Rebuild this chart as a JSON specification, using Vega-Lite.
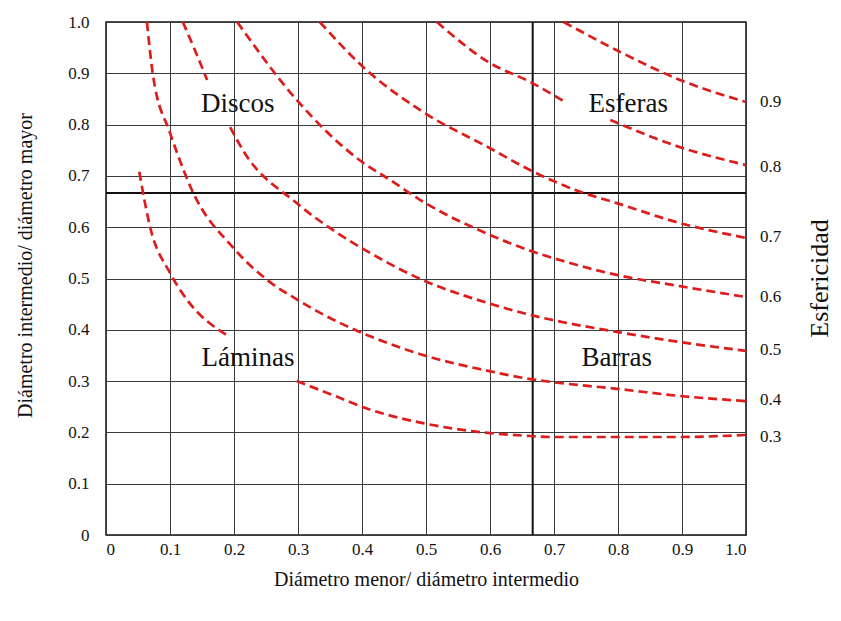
{
  "$schema": "https://vega.github.io/schema/vega-lite/v6.json",
  "width": 640,
  "height": 513,
  "autosize": {"type": "none"},
  "padding": {"left": 106, "top": 22, "right": 95, "bottom": 86},
  "background": "white",
  "config": {
    "font": "Liberation Serif",
    "view": {"stroke": "#111", "strokeWidth": 1.5},
    "axis": {
      "labelFont": "Liberation Serif",
      "titleFont": "Liberation Serif",
      "labelFontSize": 17,
      "titleFontSize": 20,
      "titleFontWeight": "normal",
      "labelColor": "#111",
      "titleColor": "#111",
      "gridColor": "#3a3a3a",
      "gridOpacity": 1,
      "gridWidth": 1,
      "domain": false,
      "ticks": false
    }
  },
  "title": {
    "text": "Esfericidad",
    "orient": "right",
    "angle": 270,
    "font": "Liberation Serif",
    "fontSize": 26,
    "fontWeight": "normal",
    "color": "#111",
    "offset": 0,
    "anchor": "middle"
  },
  "datasets": {
    "curves": [
      {"k": "0.9", "x": 0.715, "y": 1.0},
      {"k": "0.9", "x": 0.798, "y": 0.945},
      {"k": "0.9", "x": 0.897, "y": 0.887},
      {"k": "0.9", "x": 1.0, "y": 0.844},
      {"k": "0.8a", "x": 0.517, "y": 1.0},
      {"k": "0.8a", "x": 0.6, "y": 0.92},
      {"k": "0.8a", "x": 0.663, "y": 0.883},
      {"k": "0.8a", "x": 0.72, "y": 0.842},
      {"k": "0.8b", "x": 0.788, "y": 0.809},
      {"k": "0.8b", "x": 0.897, "y": 0.756},
      {"k": "0.8b", "x": 1.0, "y": 0.721},
      {"k": "0.7", "x": 0.334, "y": 1.0},
      {"k": "0.7", "x": 0.402, "y": 0.912},
      {"k": "0.7", "x": 0.491, "y": 0.828},
      {"k": "0.7", "x": 0.6, "y": 0.754},
      {"k": "0.7", "x": 0.663, "y": 0.711},
      {"k": "0.7", "x": 0.741, "y": 0.669},
      {"k": "0.7", "x": 0.798, "y": 0.647},
      {"k": "0.7", "x": 0.897, "y": 0.608},
      {"k": "0.7", "x": 1.0, "y": 0.579},
      {"k": "0.6", "x": 0.205, "y": 1.0},
      {"k": "0.6", "x": 0.298, "y": 0.848},
      {"k": "0.6", "x": 0.397, "y": 0.73},
      {"k": "0.6", "x": 0.444, "y": 0.692},
      {"k": "0.6", "x": 0.495, "y": 0.65},
      {"k": "0.6", "x": 0.6, "y": 0.585},
      {"k": "0.6", "x": 0.663, "y": 0.554},
      {"k": "0.6", "x": 0.709, "y": 0.536},
      {"k": "0.6", "x": 0.798, "y": 0.507},
      {"k": "0.6", "x": 0.897, "y": 0.485},
      {"k": "0.6", "x": 1.0, "y": 0.464},
      {"k": "0.5a", "x": 0.12, "y": 1.0},
      {"k": "0.5a", "x": 0.139, "y": 0.945},
      {"k": "0.5a", "x": 0.158, "y": 0.887},
      {"k": "0.5b", "x": 0.194, "y": 0.795},
      {"k": "0.5b", "x": 0.214, "y": 0.75},
      {"k": "0.5b", "x": 0.298, "y": 0.647},
      {"k": "0.5b", "x": 0.366, "y": 0.585},
      {"k": "0.5b", "x": 0.4, "y": 0.559},
      {"k": "0.5b", "x": 0.495, "y": 0.497},
      {"k": "0.5b", "x": 0.597, "y": 0.452},
      {"k": "0.5b", "x": 0.663, "y": 0.429},
      {"k": "0.5b", "x": 0.698, "y": 0.419},
      {"k": "0.5b", "x": 0.798, "y": 0.396},
      {"k": "0.5b", "x": 0.897, "y": 0.376},
      {"k": "0.5b", "x": 1.0, "y": 0.359},
      {"k": "0.4", "x": 0.064, "y": 1.0},
      {"k": "0.4", "x": 0.073, "y": 0.9},
      {"k": "0.4", "x": 0.1, "y": 0.784},
      {"k": "0.4", "x": 0.111, "y": 0.745},
      {"k": "0.4", "x": 0.134, "y": 0.673},
      {"k": "0.4", "x": 0.198, "y": 0.561},
      {"k": "0.4", "x": 0.252, "y": 0.497},
      {"k": "0.4", "x": 0.3, "y": 0.458},
      {"k": "0.4", "x": 0.366, "y": 0.413},
      {"k": "0.4", "x": 0.4, "y": 0.394},
      {"k": "0.4", "x": 0.495, "y": 0.351},
      {"k": "0.4", "x": 0.597, "y": 0.32},
      {"k": "0.4", "x": 0.663, "y": 0.304},
      {"k": "0.4", "x": 0.698, "y": 0.298},
      {"k": "0.4", "x": 0.798, "y": 0.285},
      {"k": "0.4", "x": 0.897, "y": 0.271},
      {"k": "0.4", "x": 1.0, "y": 0.261},
      {"k": "0.3a", "x": 0.052, "y": 0.708},
      {"k": "0.3a", "x": 0.069, "y": 0.6},
      {"k": "0.3a", "x": 0.1, "y": 0.511},
      {"k": "0.3a", "x": 0.127, "y": 0.458},
      {"k": "0.3a", "x": 0.188, "y": 0.39},
      {"k": "0.3b", "x": 0.298, "y": 0.3},
      {"k": "0.3b", "x": 0.366, "y": 0.267},
      {"k": "0.3b", "x": 0.4, "y": 0.25},
      {"k": "0.3b", "x": 0.495, "y": 0.218},
      {"k": "0.3b", "x": 0.597, "y": 0.199},
      {"k": "0.3b", "x": 0.663, "y": 0.193},
      {"k": "0.3b", "x": 0.698, "y": 0.191},
      {"k": "0.3b", "x": 0.798, "y": 0.191},
      {"k": "0.3b", "x": 0.897, "y": 0.191},
      {"k": "0.3b", "x": 1.0, "y": 0.195}
    ],
    "regions": [
      {"name": "Discos", "x": 0.206, "y": 0.84},
      {"name": "Esferas", "x": 0.816, "y": 0.84},
      {"name": "Láminas", "x": 0.222, "y": 0.345},
      {"name": "Barras", "x": 0.798, "y": 0.345}
    ],
    "ends": [
      {"label": "0.9", "y": 0.844},
      {"label": "0.8", "y": 0.717},
      {"label": "0.7", "y": 0.581},
      {"label": "0.6", "y": 0.464},
      {"label": "0.5", "y": 0.361},
      {"label": "0.4", "y": 0.263},
      {"label": "0.3", "y": 0.191}
    ],
    "limits": [{"v": 0.6667}]
  },
  "layer": [
    {
      "data": {"name": "limits"},
      "mark": {"type": "rule", "color": "#111", "strokeWidth": 2},
      "encoding": {
        "x": {
          "field": "v", "type": "quantitative",
          "scale": {"domain": [0, 1], "nice": false, "zero": false},
          "axis": {
            "values": [0, 0.1, 0.2, 0.3, 0.4, 0.5, 0.6, 0.7, 0.8, 0.9, 1.0],
            "labelExpr": "datum.value == 0 ? '0' : format(datum.value, '.1f')",
            "labelPadding": 6,
            "title": "Diámetro menor/ diámetro intermedio",
            "titleX": 320,
            "titleY": 44,
            "titleBaseline": "middle",
            "titleAlign": "center",
            "grid": true
          }
        }
      }
    },
    {
      "data": {"name": "limits"},
      "mark": {"type": "rule", "color": "#111", "strokeWidth": 2},
      "encoding": {
        "y": {
          "field": "v", "type": "quantitative",
          "scale": {"domain": [0, 1], "nice": false, "zero": false},
          "axis": {
            "values": [0, 0.1, 0.2, 0.3, 0.4, 0.5, 0.6, 0.7, 0.8, 0.9, 1.0],
            "labelExpr": "datum.value == 0 ? '0' : format(datum.value, '.1f')",
            "labelPadding": 17,
            "title": "Diámetro intermedio/ diámetro mayor",
            "titleX": -81,
            "titleY": 243,
            "titleAngle": 270,
            "titleBaseline": "middle",
            "titleAlign": "center",
            "grid": true
          }
        }
      }
    },
    {
      "data": {"name": "curves"},
      "mark": {"type": "line", "color": "#dd1c1c", "strokeWidth": 2.7, "strokeDash": [9, 5], "interpolate": "monotone"},
      "encoding": {
        "x": {"field": "x", "type": "quantitative"},
        "y": {"field": "y", "type": "quantitative"},
        "detail": {"field": "k"},
        "order": {"field": "x"}
      }
    },
    {
      "data": {"name": "regions"},
      "mark": {"type": "text", "font": "Liberation Serif", "fontSize": 27, "color": "#111", "align": "center", "baseline": "middle"},
      "encoding": {
        "x": {"field": "x", "type": "quantitative"},
        "y": {"field": "y", "type": "quantitative"},
        "text": {"field": "name"}
      }
    },
    {
      "data": {"name": "ends"},
      "mark": {"type": "text", "font": "Liberation Serif", "fontSize": 17, "color": "#111", "align": "left", "baseline": "middle", "dx": 14},
      "encoding": {
        "x": {"datum": 1},
        "y": {"field": "y", "type": "quantitative"},
        "text": {"field": "label"}
      }
    }
  ]
}
